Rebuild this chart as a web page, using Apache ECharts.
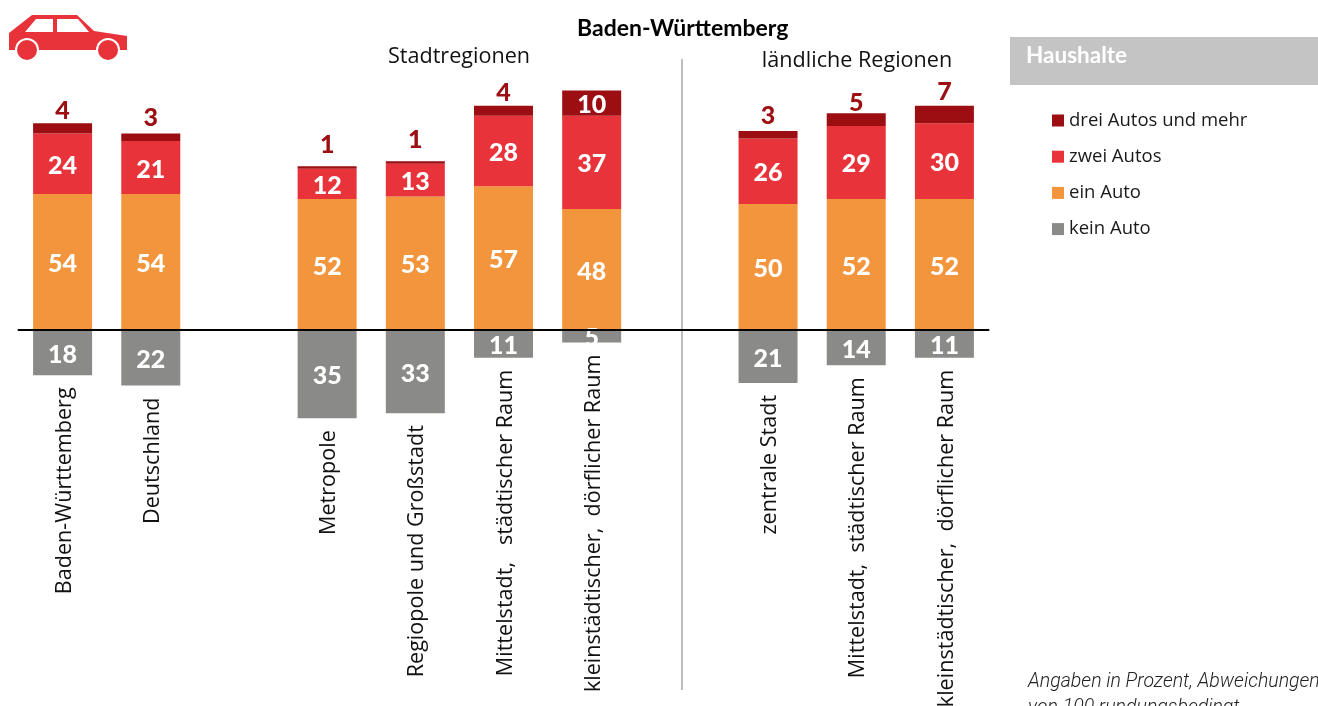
<!DOCTYPE html>
<html>
<head>
<meta charset="utf-8">
<title>Haushalte Autos</title>
<script src="https://cdn.jsdelivr.net/npm/echarts@6/dist/echarts.min.js"></script>
<style>
html, body { margin: 0; padding: 0; background: #fff; overflow: hidden; }
#chart { width: 1318px; height: 706px; }
</style>
</head>
<body>
<div id="chart"></div>
<script>
// leere Kategorien sind die Abstaende zwischen den Gruppen
var categories = ['Baden-Württemberg', 'Deutschland', '', 'Metropole', 'Regiopole und Großstadt',
    'Mittelstadt,   städtischer Raum', 'kleinstädtischer,  dörflicher Raum', '',
    'zentrale Stadt', 'Mittelstadt,  städtischer Raum', 'kleinstädtischer,  dörflicher Raum'];
var dreiAutos = [4, 3, null, 1, 1, 4, 10, null, 3, 5, 7];
var zweiAutos = [24, 21, null, 12, 13, 28, 37, null, 26, 29, 30];
var einAuto = [54, 54, null, 52, 53, 57, 48, null, 50, 52, 52];
var keinAuto = [18, 22, null, 35, 33, 11, 5, null, 21, 14, 11];

var colors = { drei: '#9c0e12', zwei: '#e8333a', ein: '#f2953c', kein: '#8a8a88' };
var numFont = 'Lato';
var textFont = '"Open Sans"';

var myChart = echarts.init(document.getElementById('chart'));

function insideLabel() {
    return {
        show: true,
        position: 'inside',
        offset: [0, 2],
        color: '#fff',
        fontFamily: numFont,
        fontWeight: 900,
        fontSize: 25,
        formatter: function (p) { return Math.abs(p.value); }
    };
}

// Zahlen ueber dem Balken stehen im Original nicht ganz gleich hoch
var topLabelShift = [2, -1, 0, -7, -7, 2, 0, 0, 0, 4, 1];

// oberstes Segment: Zahl steht ueber dem Balken, nur die 10 passt hinein
var dreiData = dreiAutos.map(function (v, i) {
    if (v === 10) {
        return { value: v, label: { position: 'inside', color: '#fff', offset: [0, 2] } };
    }
    return { value: v, label: { offset: [0, topLabelShift[i]] } };
});

var option = {
    animation: false,
    title: {
        text: 'Baden-Württemberg',
        left: 572,
        top: 12,
        textStyle: { fontFamily: numFont, fontWeight: 'bold', fontSize: 23, color: '#000' }
    },
    legend: {
        data: ['drei Autos und mehr', 'zwei Autos', 'ein Auto', 'kein Auto'],
        orient: 'vertical',
        left: 1047,
        top: 106,
        itemWidth: 12,
        itemHeight: 12,
        itemGap: 17.2,
        icon: 'rect',
        selectedMode: false,
        textStyle: { fontFamily: textFont, fontSize: 18.5, color: '#1a1a1a' }
    },
    grid: { left: 18.5, width: 970, top: 78, height: 352.8 },
    xAxis: {
        type: 'category',
        data: categories,
        z: 5,
        axisLine: { onZero: true, lineStyle: { color: '#000', width: 2 } },
        axisTick: { show: false },
        axisLabel: { show: false }
    },
    yAxis: { type: 'value', min: -40, max: 100, show: false },
    series: [
        {
            name: 'kein Auto', type: 'bar', stack: 'a', barWidth: 59,
            itemStyle: { color: colors.kein },
            label: insideLabel(),
            data: keinAuto.map(function (v) { return v === null ? null : -v; })
        },
        {
            name: 'ein Auto', type: 'bar', stack: 'a',
            itemStyle: { color: colors.ein },
            label: insideLabel(),
            data: einAuto
        },
        {
            name: 'zwei Autos', type: 'bar', stack: 'a',
            itemStyle: { color: colors.zwei },
            label: insideLabel(),
            data: zweiAutos
        },
        {
            name: 'drei Autos und mehr', type: 'bar', stack: 'a',
            itemStyle: { color: colors.drei },
            label: {
                show: true,
                position: 'top',
                distance: 2,
                color: colors.drei,
                fontFamily: numFont,
                fontWeight: 900,
                fontSize: 25
            },
            data: dreiData
        },
        {
            // Kategorienamen haengen unter dem jeweiligen grauen Balken
            name: 'Kategorien', type: 'custom', silent: true,
            data: keinAuto.map(function (v, i) { return [i, v === null ? null : -v]; }),
            encode: { x: 0, y: 1 },
            renderItem: function (params, api) {
                if (isNaN(api.value(1))) return null;
                var pt = api.coord([api.value(0), api.value(1)]);
                return {
                    type: 'text',
                    x: pt[0] + 2,
                    y: pt[1] + 12,
                    rotation: Math.PI / 2,
                    style: {
                        text: categories[api.value(0)],
                        align: 'right',
                        verticalAlign: 'middle',
                        fontFamily: textFont,
                        fontSize: 21.6,
                        fill: '#111'
                    }
                };
            }
        }
    ],
    graphic: [
        // Auto oben links
        { type: 'polygon', shape: { points: [[9, 33], [32, 15], [77, 15], [94, 31], [127, 36], [127, 50], [9, 50]] }, style: { fill: colors.zwei } },
        { type: 'polygon', shape: { points: [[25, 32], [36, 19], [53, 19], [53, 32]] }, style: { fill: '#fff' } },
        { type: 'polygon', shape: { points: [[57, 19], [78, 19], [89, 32], [57, 32]] }, style: { fill: '#fff' } },
        { type: 'circle', shape: { cx: 27, cy: 50, r: 12 }, style: { fill: '#fff' } },
        { type: 'circle', shape: { cx: 108, cy: 50, r: 12 }, style: { fill: '#fff' } },
        { type: 'circle', shape: { cx: 27, cy: 50, r: 10 }, style: { fill: colors.zwei } },
        { type: 'circle', shape: { cx: 108, cy: 50, r: 10 }, style: { fill: colors.zwei } },

        { type: 'text', x: 459, y: 57, style: { text: 'Stadtregionen', align: 'center', verticalAlign: 'middle', fontFamily: textFont, fontSize: 21.6, fill: '#111' } },
        { type: 'text', x: 857, y: 61, style: { text: 'ländliche Regionen', align: 'center', verticalAlign: 'middle', fontFamily: textFont, fontSize: 21.6, fill: '#111' } },
        { type: 'line', shape: { x1: 682, y1: 59, x2: 682, y2: 690 }, style: { stroke: '#a9a9a9', lineWidth: 1.5 } },

        { type: 'rect', shape: { x: 1010, y: 37, width: 308, height: 48 }, style: { fill: '#c3c4c3' } },
        { type: 'text', x: 1026, y: 56, style: { text: 'Haushalte', verticalAlign: 'middle', fontFamily: numFont, fontWeight: 'bold', fontSize: 22.5, fill: '#fff' } },

        { type: 'text', x: 1028, y: 682, style: { text: 'Angaben in Prozent, Abweichungen', verticalAlign: 'middle', fontFamily: 'Roboto', fontStyle: 'italic', fontWeight: 300, fontSize: 19.5, fill: '#222' } },
        { type: 'text', x: 1028, y: 708, style: { text: 'von 100 rundungsbedingt', verticalAlign: 'middle', fontFamily: 'Roboto', fontStyle: 'italic', fontWeight: 300, fontSize: 19.5, fill: '#222' } }
    ]
};

myChart.setOption(option);
</script>
</body>
</html>
